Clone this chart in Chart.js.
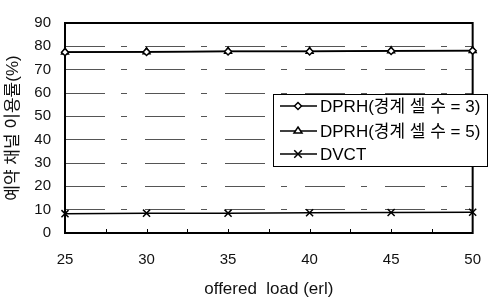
<!DOCTYPE html>
<html>
<head>
<meta charset="utf-8">
<script src="https://cdn.jsdelivr.net/npm/chart.js@4/dist/chart.umd.min.js"></script>
<style>
html,body{margin:0;padding:0;background:#fff;}
canvas{display:block;}
</style>
</head>
<body>
<canvas id="c" width="499" height="306"></canvas>
<script>
const loads = [25, 30, 35, 40, 45, 50];
const dprh3 = [77.5, 77.6, 77.8, 77.8, 78.0, 78.1];
const dprh5 = [77.6, 77.7, 77.9, 77.9, 78.1, 78.2];
const dvct = [8.3, 8.5, 8.5, 8.7, 8.8, 8.9];
const seriesLabels = ['DPRH(경계 셀 수 = 3)', 'DPRH(경계 셀 수 = 5)', 'DVCT'];
const xTitle = 'offered  load (erl)';
const yTitle = '예약 채널 이용률(%)';

const FONT = "'Liberation Sans', Arial, 'Noto Sans CJK KR', sans-serif";

function pts(arr){ return loads.map((x,i)=>({x:x, y:arr[i]})); }

const styles = [
  {pointStyle:'rectRot', radius:3.5},
  {pointStyle:'triangle', radius:4},
  {pointStyle:'crossRot', radius:5}
];

function drawMarker(ctx, style, x, y, r){
  ctx.save();
  ctx.strokeStyle = '#000'; ctx.fillStyle = '#fff'; ctx.lineWidth = 1.5;
  ctx.beginPath();
  if(style==='rectRot'){
    ctx.moveTo(x, y-r); ctx.lineTo(x+r, y); ctx.lineTo(x, y+r); ctx.lineTo(x-r, y); ctx.closePath();
    ctx.fill(); ctx.stroke();
  } else if(style==='triangle'){
    const h = r*1.5;
    ctx.moveTo(x, y-h*0.66); ctx.lineTo(x+r, y+h*0.34); ctx.lineTo(x-r, y+h*0.34); ctx.closePath();
    ctx.fill(); ctx.stroke();
  } else {
    const d = r*0.75;
    ctx.moveTo(x-d, y-d); ctx.lineTo(x+d, y+d); ctx.moveTo(x+d, y-d); ctx.lineTo(x-d, y+d);
    ctx.stroke();
  }
  ctx.restore();
}

const framePlugin = {
  id: 'frame',
  beforeDatasetsDraw(chart){
    const {ctx, chartArea:a} = chart;
    ctx.save();
    ctx.strokeStyle = '#000'; ctx.lineWidth = 2;
    ctx.strokeRect(a.left, a.top, a.right-a.left, a.bottom-a.top);
    const xs = chart.scales.x;
    ctx.lineWidth = 1;
    for(let v = xs.min + 2.5; v < xs.max; v += 2.5){
      const px = Math.round(xs.getPixelForValue(v)) + 0.5;
      ctx.beginPath(); ctx.moveTo(px, a.bottom); ctx.lineTo(px, a.bottom - 4); ctx.stroke();
    }
    ctx.restore();
  },
  afterDraw(chart){
    const {ctx} = chart;
    const bx = 273, by = 94, bw = 214, bh = 72;
    ctx.save();
    ctx.fillStyle = '#fff';
    ctx.fillRect(bx, by, bw, bh);
    ctx.strokeStyle = '#000'; ctx.lineWidth = 1;
    ctx.strokeRect(bx+0.5, by+0.5, bw, bh);
    const rows = [106, 131, 154];
    ctx.font = "17px " + FONT;
    ctx.textBaseline = 'middle';
    chart.data.datasets.forEach((ds, i)=>{
      const y = rows[i];
      ctx.strokeStyle = '#000'; ctx.lineWidth = 1.5;
      ctx.beginPath(); ctx.moveTo(280, y); ctx.lineTo(317, y); ctx.stroke();
      drawMarker(ctx, styles[i].pointStyle, 298, y, styles[i].radius);
      ctx.fillStyle = '#000';
      ctx.fillText(ds.label, 320, y+1);
    });
    ctx.restore();
  }
};

new Chart(document.getElementById('c'), {
  type: 'line',
  data: {
    datasets: [dprh3, dprh5, dvct].map((arr, i)=>({
      label: seriesLabels[i],
      data: pts(arr),
      borderColor: '#000',
      borderWidth: 1.5,
      backgroundColor: '#fff',
      pointStyle: styles[i].pointStyle,
      pointRadius: styles[i].radius,
      pointBorderWidth: 1.5,
      pointBorderColor: '#000',
      pointBackgroundColor: '#fff',
      tension: 0,
      clip: false
    }))
  },
  options: {
    responsive: false,
    animation: false,
    devicePixelRatio: 1,
    layout: {padding: {left: 0, right: 11, top: 12, bottom: 0}},
    plugins: {legend: {display: false}, tooltip: {enabled: false}},
    scales: {
      x: {
        type: 'linear', min: 25, max: 50,
        ticks: {stepSize: 5, padding: 18, color: '#111', font: {size: 15, family: FONT}},
        grid: {display: false, drawTicks: false},
        border: {display: false},
        title: {display: true, text: xTitle, color: '#111', font: {size: 17, family: FONT}, padding: {top: 0, bottom: 6}},
        afterFit(s){ s.height = 73; }
      },
      y: {
        min: 0, max: 90,
        ticks: {stepSize: 10, padding: 14, color: '#111', font: {size: 15, family: FONT}},
        grid: {
          drawTicks: false,
          lineWidth: 1,
          color: (c)=> (c.tick && (c.tick.value===0 || c.tick.value===90)) ? 'rgba(0,0,0,0)' : '#555'
        },
        border: {display: false, dash: [40, 16, 6, 18]},
        title: {display: true, text: yTitle, color: '#111', font: {size: 17, family: FONT}, padding: {top: 3, bottom: 0}},
        afterFit(s){ s.width = 65; }
      }
    }
  },
  plugins: [framePlugin]
});
</script>
</body>
</html>
